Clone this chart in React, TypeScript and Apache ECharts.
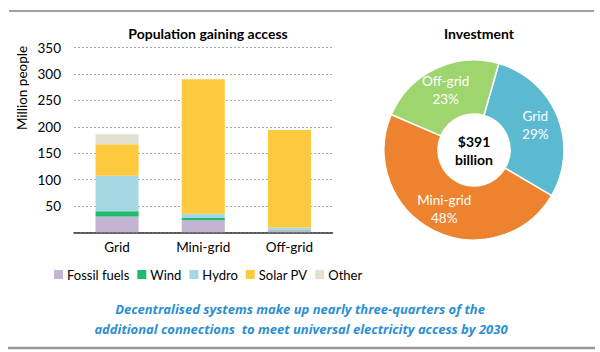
import React, { useEffect, useRef } from "react";
import * as echarts from "echarts";

const categories = ["Grid", "Mini-grid", "Off-grid"];
const fossil = [30, 23, 4];
const wind = [10, 4, 1];
const hydro = [67, 8, 4];
const solar = [60, 255, 185];
const other = [19, 0, 0];
const yTicks = [0, 50, 100, 150, 200, 250, 300, 350];

const pieNames = ["Grid", "Mini-grid", "Off-grid"];
const pieValues = [29, 48, 23];

const FONT = "Lato, 'Open Sans', sans-serif";

export default function App() {
  const ref = useRef<HTMLDivElement>(null);
  useEffect(() => {
    const chart = echarts.init(ref.current!, undefined, { renderer: "svg" });
    const mk = (name: string, data: number[], color: string) => ({
      name,
      type: "bar",
      stack: "total",
      data,
      barWidth: "50%",
      itemStyle: { color },
      emphasis: { disabled: true },
    });
    chart.setOption({
      animation: false,
      textStyle: { fontFamily: FONT },
      title: [
        {
          text: "Population gaining access",
          left: 203,
          top: 21,
          textAlign: "center",
          textStyle: { fontSize: 14, fontWeight: "bold", color: "#000", fontFamily: FONT },
        },
        {
          text: "Investment",
          left: 474,
          top: 21,
          textAlign: "center",
          textStyle: { fontSize: 14, fontWeight: "bold", color: "#000", fontFamily: FONT },
        },
      ],
      legend: {
        left: 54,
        top: 268,
        padding: 0,
        itemWidth: 9,
        itemHeight: 9,
        itemGap: 8,
        icon: "rect",
        textStyle: { fontSize: 13, color: "#000", fontFamily: FONT, padding: [0, 0, 0, -1] },
        data: ["Fossil fuels", "Wind", "Hydro", "Solar PV", "Other"],
      },
      grid: { left: 74, top: 47.7, width: 258.5, height: 184.6 },
      xAxis: {
        type: "category",
        data: categories,
        axisLine: { lineStyle: { color: "#333", width: 1.5 } },
        axisTick: { length: 5, lineStyle: { color: "#333", width: 1.5 } },
        axisLabel: { fontSize: 13.5, color: "#000", margin: 8, fontFamily: FONT },
      },
      yAxis: {
        type: "value",
        min: yTicks[0],
        max: yTicks[yTicks.length - 1],
        interval: 50,
        axisLine: { show: false },
        axisTick: { show: false },
        axisLabel: {
          fontSize: 13.5,
          color: "#000",
          margin: 13,
          fontFamily: FONT,
          formatter: (v: number) => (v === 0 ? "" : String(v)),
        },
        splitLine: { lineStyle: { color: "#aaa", type: [2, 2], width: 1 } },
      },
      series: [
        mk("Fossil fuels", fossil, "#c2b4d2"),
        mk("Wind", wind, "#1fbb6d"),
        mk("Hydro", hydro, "#a6d8e4"),
        mk("Solar PV", solar, "#fdc93e"),
        mk("Other", other, "#e3e0d2"),
        {
          type: "pie",
          center: [474, 150],
          radius: [36, 90],
          startAngle: 74,
          clockwise: true,
          emphasis: { disabled: true },
          itemStyle: { borderColor: "#fff", borderWidth: 1.5 },
          label: {
            position: "inside",
            formatter: (p: any) => `${p.name}\n${p.value}%`,
            color: "#fff",
            fontSize: 13.5,
            lineHeight: 18,
            fontFamily: FONT,
          },
          labelLine: { show: false },
          data: pieNames.map((n, i) => ({
            name: n,
            value: pieValues[i],
            itemStyle: { color: ["#5bbad0", "#ed832f", "#9fd56f"][i] },
          })),
        },
      ],
      graphic: [
        {
          type: "line",
          shape: { x1: 9, y1: 11, x2: 594, y2: 11 },
          style: { stroke: "#a0a0a0", lineWidth: 2 },
        },
        {
          type: "line",
          shape: { x1: 8, y1: 348, x2: 595, y2: 348 },
          style: { stroke: "#999", lineWidth: 2.5 },
        },
        {
          type: "text",
          x: 22,
          y: 88,
          rotation: Math.PI / 2,
          style: {
            text: "Million people",
            fontSize: 13.5,
            fontFamily: FONT,
            fill: "#000",
            align: "center",
            verticalAlign: "middle",
          },
        },
        {
          type: "text",
          x: 474,
          y: 150,
          style: {
            text: "$391\nbillion",
            fontSize: 14,
            fontWeight: "bold",
            lineHeight: 18,
            fontFamily: FONT,
            fill: "#000",
            align: "center",
            verticalAlign: "middle",
          },
        },
        {
          type: "text",
          x: 300,
          y: 309,
          style: {
            text: "Decentralised systems make up nearly three-quarters of the",
            fontSize: 13,
            fontWeight: "bold",
            fontStyle: "italic",
            fontFamily: "'Open Sans', sans-serif",
            fill: "#2a8fd3",
            align: "center",
            verticalAlign: "middle",
          },
        },
        {
          type: "text",
          x: 301,
          y: 329,
          style: {
            text: "additional connections  to meet universal electricity access by 2030",
            fontSize: 13,
            fontWeight: "bold",
            fontStyle: "italic",
            fontFamily: "'Open Sans', sans-serif",
            fill: "#2a8fd3",
            align: "center",
            verticalAlign: "middle",
          },
        },
      ],
    });
    return () => chart.dispose();
  }, []);
  return <div ref={ref} style={{ width: 600, height: 352, position: "absolute", left: 0, top: 0 }} />;
}
